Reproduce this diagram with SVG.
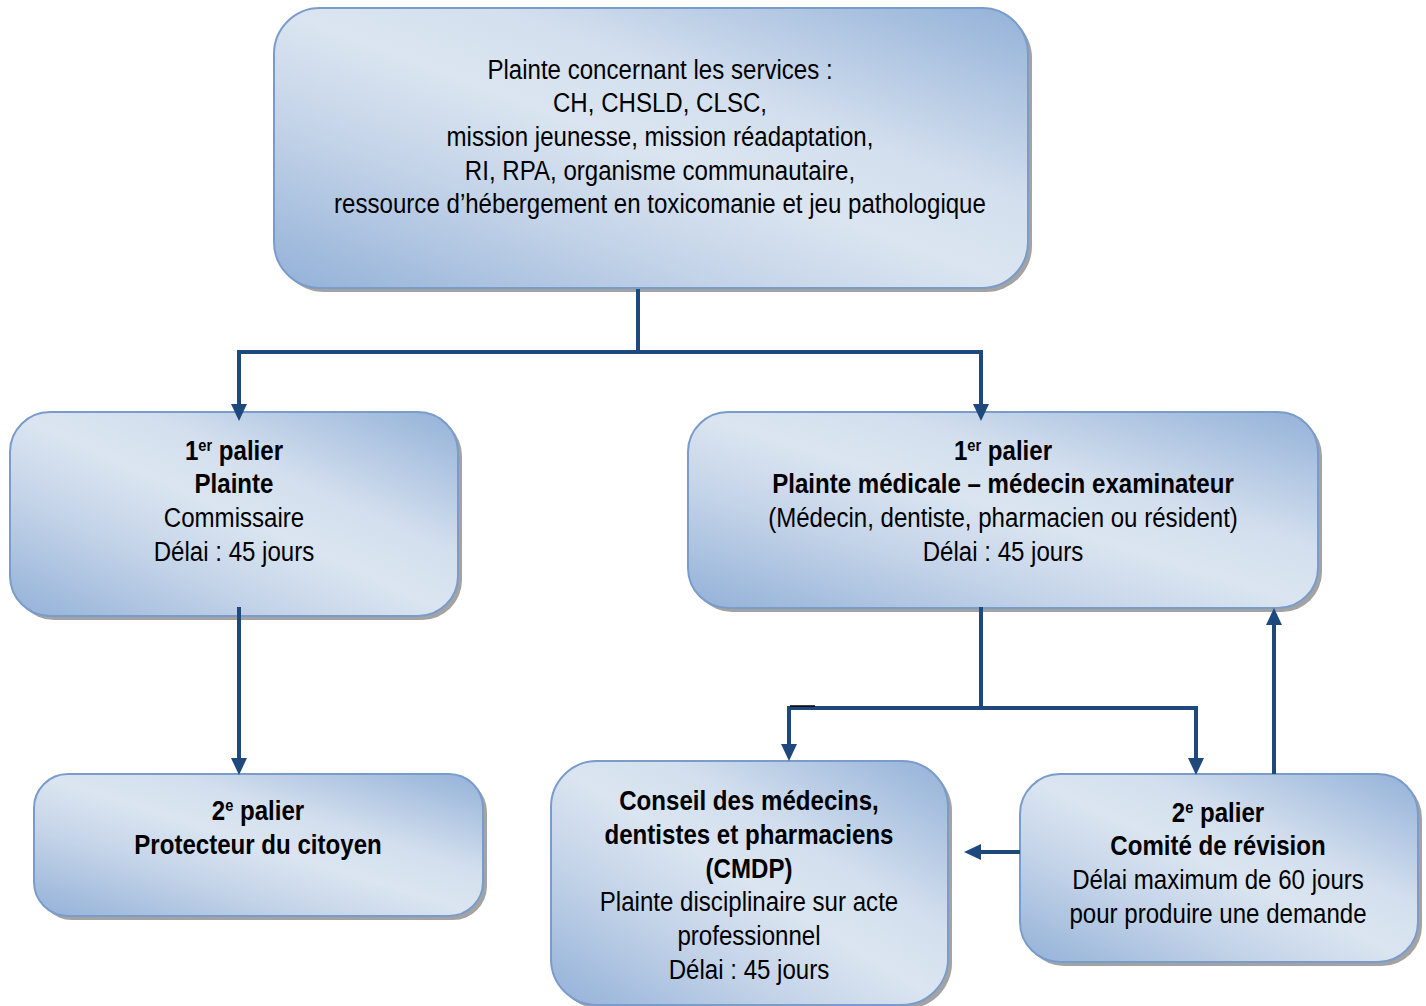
<svg xmlns="http://www.w3.org/2000/svg" width="1426" height="1006" viewBox="0 0 1426 1006">
<defs>
<linearGradient id="g" x1="0" y1="1" x2="1" y2="0">
<stop offset="0" stop-color="#93b1d8"/>
<stop offset="0.3" stop-color="#c3d3e8"/>
<stop offset="0.5" stop-color="#dbe5f1"/>
<stop offset="0.65" stop-color="#d3dfee"/>
<stop offset="1" stop-color="#93b1d8"/>
</linearGradient>
<path id="arr" d="M-8,-17 L8,-17 L0,0 z" fill="#1f497d"/>
</defs>
<style>
.sh{fill:#8c8c8c;opacity:0.8}
.bx{fill:url(#g);stroke:#7a9ccb;stroke-width:2}
.t{font-family:"Liberation Sans Narrow","Arial Narrow","Liberation Sans",sans-serif;font-size:28px;fill:#000;text-anchor:middle}
.b{font-weight:bold}
.sup{font-size:17px}
.c{fill:none;stroke:#1f497d;stroke-width:4}
</style>
<g id="n-top">
<rect class="sh" x="278" y="12" width="754" height="280" rx="46"/>
<rect class="bx" x="274" y="8" width="754" height="280" rx="46"/>
<g transform="translate(660,0) scale(0.86,1)">
<text class="t" x="0" y="79">Plainte concernant les services :</text>
<text class="t" x="0" y="112">CH, CHSLD, CLSC,</text>
<text class="t" x="0" y="146">mission jeunesse, mission réadaptation,</text>
<text class="t" x="0" y="180">RI, RPA, organisme communautaire,</text>
<text class="t" x="0" y="213">ressource d’hébergement en toxicomanie et jeu pathologique</text>
</g>
</g>
<g id="n-plainte">
<rect class="sh" x="14" y="416" width="448" height="204" rx="40"/>
<rect class="bx" x="10" y="412" width="448" height="204" rx="40"/>
<g transform="translate(234,0) scale(0.86,1)">
<text class="t b" x="0" y="460">1<tspan class="sup" dy="-9">er</tspan><tspan dy="9"> palier</tspan></text>
<text class="t b" x="0" y="493">Plainte</text>
<text class="t" x="0" y="527">Commissaire</text>
<text class="t" x="0" y="561">Délai : 45 jours</text>
</g>
</g>
<g id="n-medicale">
<rect class="sh" x="692" y="416" width="630" height="196" rx="40"/>
<rect class="bx" x="688" y="412" width="630" height="196" rx="40"/>
<g transform="translate(1003,0) scale(0.86,1)">
<text class="t b" x="0" y="460">1<tspan class="sup" dy="-9">er</tspan><tspan dy="9"> palier</tspan></text>
<text class="t b" x="0" y="493">Plainte médicale – médecin examinateur</text>
<text class="t" x="0" y="527">(Médecin, dentiste, pharmacien ou résident)</text>
<text class="t" x="0" y="561">Délai : 45 jours</text>
</g>
</g>
<g id="n-protecteur">
<rect class="sh" x="38" y="778" width="449" height="142" rx="34"/>
<rect class="bx" x="34" y="774" width="449" height="142" rx="34"/>
<g transform="translate(258,0) scale(0.86,1)">
<text class="t b" x="0" y="820">2<tspan class="sup" dy="-9">e</tspan><tspan dy="9"> palier</tspan></text>
<text class="t b" x="0" y="854">Protecteur du citoyen</text>
</g>
</g>
<g id="n-cmdp">
<rect class="sh" x="555" y="765" width="397" height="244" rx="46"/>
<rect class="bx" x="551" y="761" width="397" height="244" rx="46"/>
<g transform="translate(749,0) scale(0.86,1)">
<text class="t b" x="0" y="810">Conseil des médecins,</text>
<text class="t b" x="0" y="844">dentistes et pharmaciens</text>
<text class="t b" x="0" y="878">(CMDP)</text>
<text class="t" x="0" y="911">Plainte disciplinaire sur acte</text>
<text class="t" x="0" y="945">professionnel</text>
<text class="t" x="0" y="979">Délai : 45 jours</text>
</g>
</g>
<g id="n-comite">
<rect class="sh" x="1024" y="778" width="398" height="188" rx="40"/>
<rect class="bx" x="1020" y="774" width="398" height="188" rx="40"/>
<g transform="translate(1218,0) scale(0.86,1)">
<text class="t b" x="0" y="822">2<tspan class="sup" dy="-9">e</tspan><tspan dy="9"> palier</tspan></text>
<text class="t b" x="0" y="855">Comité de révision</text>
<text class="t" x="0" y="889">Délai maximum de 60 jours</text>
<text class="t" x="0" y="923">pour produire une demande</text>
</g>
</g>
<g id="connectors">
<path class="c" d="M638,289 V352"/>
<path class="c" d="M638,352 H239 V406"/>
<use href="#arr" transform="translate(239,421)"/>
<path class="c" d="M638,352 H981 V406"/>
<use href="#arr" transform="translate(981,421)"/>
<path class="c" d="M239,607 V760"/>
<use href="#arr" transform="translate(239,775)"/>
<path class="c" d="M981,607 V708"/>
<path class="c" d="M981,708 H789 V746"/>
<use href="#arr" transform="translate(789,761)"/>
<path class="c" d="M981,708 H1196 V760"/>
<use href="#arr" transform="translate(1196,775)"/>
<path class="c" d="M1274,774 V622"/>
<use href="#arr" transform="translate(1274,608) rotate(180)"/>
<path class="c" d="M1020,852 H979"/>
<use href="#arr" transform="translate(964,852) rotate(90)"/>
<path d="M790,706 H815" stroke="#000" stroke-width="1.5"/>
</g>
</svg>
